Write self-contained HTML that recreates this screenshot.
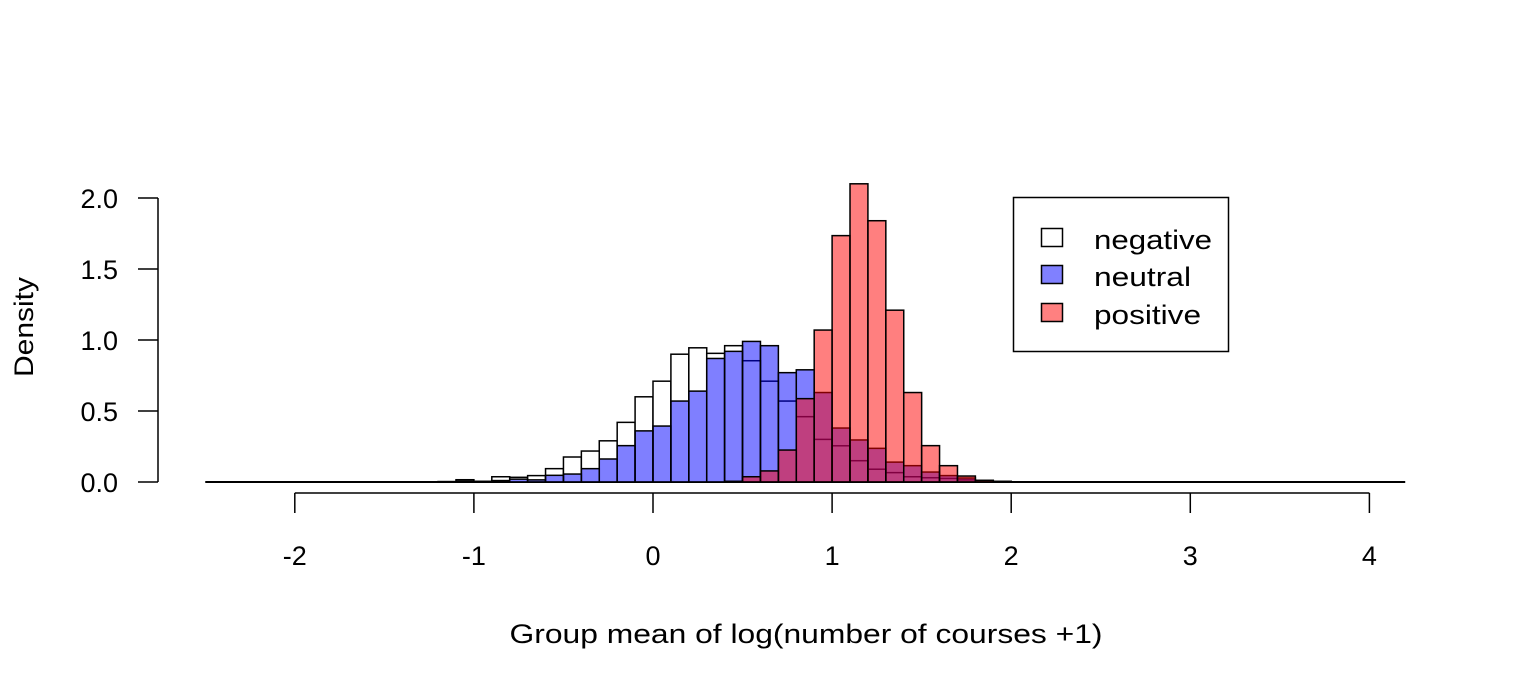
<!DOCTYPE html>
<html><head><meta charset="utf-8"><style>
html,body{margin:0;padding:0;background:#fff;}
svg{display:block;font-family:"Liberation Sans",Arial,sans-serif;}
</style></head><body>
<svg id="chart" width="1536" height="691" viewBox="0 0 1536 691">
<g id="bars"></g>
<g id="axes"></g>
<text x="806" y="643" font-size="27" text-anchor="middle" textLength="593" lengthAdjust="spacingAndGlyphs">Group mean of log(number of courses +1)</text>
<text x="0" y="0" font-size="27" text-anchor="middle" textLength="100" lengthAdjust="spacingAndGlyphs" transform="translate(33,327) rotate(-90)">Density</text>
<g>
<rect x="1013.5" y="197.5" width="215" height="154" fill="#fff" stroke="#000" stroke-width="1.5"/>
<g>
<rect x="1041.5" y="228.5" width="21" height="18" fill="#fff" stroke="#000" stroke-width="1.5"/>
<text x="1094" y="249" font-size="27" textLength="118" lengthAdjust="spacingAndGlyphs">negative</text></g>
<g>
<rect x="1041.5" y="265.5" width="21" height="18" fill="#8080ff" stroke="#000" stroke-width="1.5"/>
<text x="1094" y="286" font-size="27" textLength="97" lengthAdjust="spacingAndGlyphs">neutral</text></g>
<g>
<rect x="1041.5" y="303.5" width="21" height="18" fill="#ff8080" stroke="#000" stroke-width="1.5"/>
<text x="1094" y="324" font-size="27" textLength="107" lengthAdjust="spacingAndGlyphs">positive</text></g>
</g>
</svg>
<script>
const binStart = -1.2;
const binWidth = 0.1;
const negative = [0.003,0.016,0.005,0.037,0.033,0.045,0.094,0.176,0.218,0.29,0.42,0.60,0.71,0.90,0.945,0.906,0.96,0.854,0.71,0.57,0.46,0.30,0.255,0.15,0.09,0.066,0.037,0.03,0.025,0.015,0.008,0.004];
const neutral = [0.002,0.005,0.003,0.01,0.02,0.015,0.047,0.056,0.094,0.162,0.256,0.36,0.394,0.57,0.64,0.87,0.92,0.99,0.96,0.77,0.79,0.63,0.38,0.296,0.237,0.14,0.115,0.07,0.045,0.028,0.01,0.004];
const positive = [0,0,0,0,0,0,0,0,0,0,0,0,0,0,0,0,0.005,0.037,0.078,0.225,0.587,1.07,1.735,2.10,1.84,1.21,0.63,0.256,0.115,0.042,0.012,0.004];
const dataRange = [-2.5, 4.2];
const xTicks = [-2, -1, 0, 1, 2, 3, 4];
const yTicks = [0, 0.5, 1.0, 1.5, 2.0];
const yTickLabels = ["0.0","0.5","1.0","1.5","2.0"];

const NS = "http://www.w3.org/2000/svg";
const xS = v => 653 + v * 179.1;
const yS = v => 482 - v * 142;
const bars = document.getElementById('bars');
const axes = document.getElementById('axes');
function mk(tag, attrs, parent){const e=document.createElementNS(NS,tag);for(const k in attrs)e.setAttribute(k,attrs[k]);parent.appendChild(e);return e;}

const bl = mk('line',{x1:xS(dataRange[0]),x2:xS(dataRange[1]),y1:yS(0),y2:yS(0),stroke:'#000','stroke-width':2},bars);



const series = [[negative,'#ffffff',1,'negative'],[neutral,'#0000ff',0.5,'neutral'],[positive,'#ff0000',0.5,'positive']];
series.forEach(([vals,col,op,name])=>{
  vals.forEach((v,i)=>{
    const x0 = binStart + i*binWidth;
    const r = mk('rect',{x:xS(x0),y:yS(v),width:xS(x0+binWidth)-xS(x0),height:yS(0)-yS(v),fill:col,'fill-opacity':op,stroke:'#000','stroke-width':1.5},bars);
    
    
  });
});

const xa = mk('line',{x1:xS(xTicks[0]),x2:xS(xTicks[xTicks.length-1]),y1:493,y2:493,stroke:'#000','stroke-width':1.5},axes);


xTicks.forEach(t=>{
  const l = mk('line',{x1:xS(t),x2:xS(t),y1:493,y2:513,stroke:'#000','stroke-width':1.5},axes);
  
  
  const tx = mk('text',{x:xS(t),y:565,'font-size':27,'text-anchor':'middle'},axes);
  tx.textContent = String(t);
  
  
});
const ya = mk('line',{x1:158,x2:158,y1:yS(yTicks[0]),y2:yS(yTicks[yTicks.length-1]),stroke:'#000','stroke-width':1.5},axes);


yTicks.forEach((t,i)=>{
  const l = mk('line',{x1:138,x2:158,y1:yS(t),y2:yS(t),stroke:'#000','stroke-width':1.5},axes);
  
  
  const tx = mk('text',{x:118,y:yS(t)+10,'font-size':27,'text-anchor':'end'},axes);
  tx.textContent = yTickLabels[i];
  
  
});
</script>
</body></html>
